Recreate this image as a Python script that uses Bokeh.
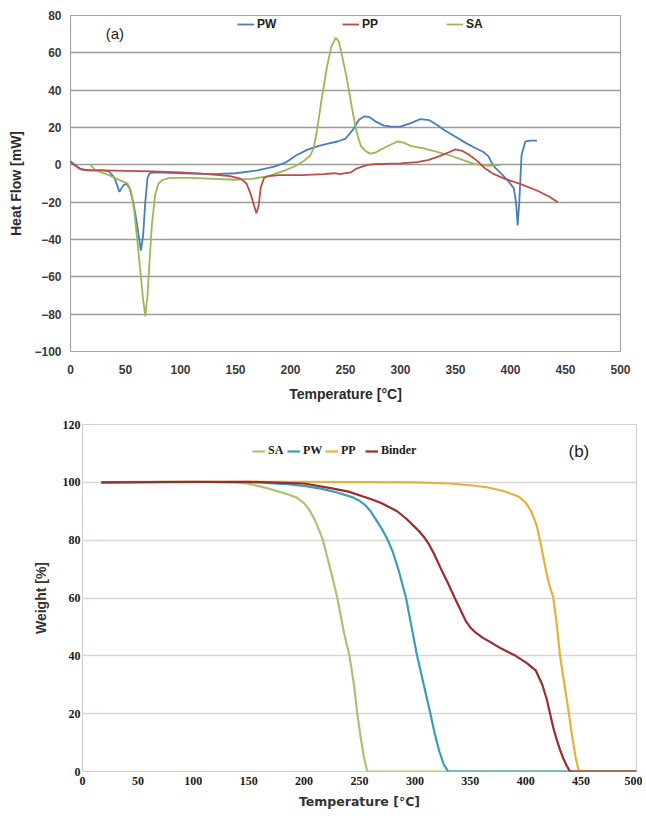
from bokeh.plotting import figure
from bokeh.models import Range1d, FixedTicker, Legend, LegendItem, Label
from bokeh.embed import file_html
from bokeh.resources import INLINE

# ---------------- (a) DSC : Heat Flow [mW] vs Temperature ----------------
pw_dsc_t = [0, 4, 10, 20, 30, 35, 40, 44.5, 48, 51, 54, 57, 60, 62, 64, 66, 68, 70, 72, 78,
            100, 130, 150, 170, 185, 195, 205, 215, 225, 235, 243, 250, 257, 262, 267, 272,
            278, 285, 292, 300, 310, 318, 326, 333, 340, 350, 360, 368, 375, 380, 383, 386,
            392, 397, 403, 405, 406.5, 408, 410, 413.5, 418, 424]
pw_dsc_hf = [2, 0, -2.5, -3, -3, -3.5, -7, -14.5, -11, -10, -13, -20, -30, -38, -46, -38, -20,
             -7, -4.5, -4, -4.5, -5, -4.5, -3, -1, 1, 5, 8, 10, 11.5, 12.5, 14, 19, 24, 26,
             25.5, 23, 21, 20.5, 20.5, 22.5, 24.5, 24, 21.5, 18.5, 15, 11.5, 9, 7, 4.5, 1,
             -1.5, -5, -8, -12.5, -20, -32.5, -20, 5, 12.5, 13, 13]

pp_dsc_t = [0, 3, 8, 15, 30, 50, 75, 100, 125, 145, 155, 160, 164, 167, 169, 171, 173, 176,
            180, 190, 210, 230, 240, 245, 250, 255, 260, 265, 270, 275, 285, 300, 315, 325,
            335, 343, 350, 356, 362, 370, 377, 385, 395, 410, 425, 435, 443]
pp_dsc_hf = [1.5, 0, -2, -3, -3, -3.2, -3.5, -4, -5, -6, -7.5, -10, -16, -22, -26, -22, -12,
             -7, -6, -5.5, -5.5, -5, -4.5, -5, -4.5, -4, -2, -1, 0, 0.3, 0.5, 0.8, 1.5, 2.5,
             4.5, 6.5, 8.3, 7.5, 5.5, 2, -2, -5, -7.5, -10.5, -14, -17, -20]

sa_dsc_t = [18, 22, 28, 35, 42, 48, 52, 55, 58, 61, 64, 66, 68, 70, 72, 74, 77, 80, 84, 90,
            110, 130, 150, 165, 180, 195, 205, 212, 218, 221, 224, 228, 233, 237, 241, 244,
            247, 251, 256, 260, 264, 268, 272, 277, 283, 290, 297, 302, 310, 320, 330, 345,
            357, 367, 380, 391]
sa_dsc_hf = [0, -2.5, -4, -5.5, -7.5, -9, -10, -14, -25, -42, -60, -72, -81, -70, -50, -32,
             -16, -10, -8, -7, -7, -7.5, -8, -7.5, -6, -3, -0.5, 2, 5, 9, 18, 34, 52, 63, 68,
             66, 58, 47, 30, 18, 10, 7.5, 6, 6.5, 8.5, 10.5, 12.5, 12, 10, 9, 7.5, 5, 2.5,
             0.5, -0.5, 0]

# ---------------- (b) TGA : Weight [%] vs Temperature ----------------
sa_tga_t = [17, 50, 100, 140, 150, 160, 170, 178, 185, 193, 200, 205, 209, 213, 217, 220,
            225, 230, 236, 241, 245, 248, 251, 254, 257, 300, 400, 500]
sa_tga_w = [100, 100.2, 100.2, 100, 99.5, 98.6, 97.6, 96.7, 95.9, 94.8, 92.8, 90.3, 87.5, 84,
            80, 75.5, 68, 60, 48, 40, 30, 20, 12, 5, 0, 0, 0, 0]

pw_tga_t = [17, 100, 160, 180, 200, 215, 230, 244, 250, 255, 260, 265, 270, 275, 280, 285,
            292, 297, 302, 308, 314, 318, 322, 326, 330, 400, 500]
pw_tga_w = [100, 100.2, 100, 99.5, 98.8, 97.8, 96.5, 94.8, 93.6, 92.2, 90, 87, 84, 80.5, 76,
            70, 60, 50, 40, 30, 20, 13, 7, 2.5, 0, 0, 0]

pp_tga_t = [17, 100, 200, 300, 330, 350, 365, 380, 394, 400, 405, 410, 414, 418, 421, 425,
            428, 431, 435, 439, 442, 445, 448, 500]
pp_tga_w = [100, 100.2, 100.2, 100, 99.6, 99, 98.3, 97, 95, 93, 90, 85, 78, 70, 65, 60, 51,
            40, 30, 20, 12, 5, 0, 0]

binder_tga_t = [17, 150, 200, 224, 240, 254, 262, 270, 284, 292, 296, 300, 304, 308, 312,
                317, 323, 330, 336, 341, 346, 350, 355, 361, 367, 378, 391, 401, 409, 415,
                419, 422, 425, 428, 431, 434, 437, 440, 500]
binder_tga_w = [100, 100.2, 99.6, 98, 96.8, 95, 94, 92.8, 90, 87.5, 86, 84.5, 83, 81.2, 79,
                75.5, 70.5, 65, 60, 56, 52, 49.8, 48, 46.3, 45, 42.5, 40, 37.5, 35, 30, 25,
                20, 15, 11, 7.5, 4.5, 2, 0, 0]

temp_ticks = [0, 50, 100, 150, 200, 250, 300, 350, 400, 450, 500]
dsc_ticks = [-100, -80, -60, -40, -20, 0, 20, 40, 60, 80]
tga_ticks = [0, 20, 40, 60, 80, 100, 120]


def clean_axes(p):
    for ax in (p.xaxis, p.yaxis):
        ax.axis_line_color = None
        ax.major_tick_line_color = None
        ax.minor_tick_line_color = None
        ax.major_tick_out = 0
        ax.major_tick_in = 0
    p.xgrid.visible = False


def add_legend(p, entries, y, font, size, color, glyph_w):
    for label, r, x in entries:
        lg = Legend(items=[LegendItem(label=label, renderers=[r])], location=(x, y),
                    orientation="horizontal", border_line_color=None,
                    background_fill_alpha=0, padding=0, margin=0, glyph_width=glyph_w,
                    glyph_height=12, label_standoff=3, label_height=12,
                    label_text_font=font, label_text_font_style="bold",
                    label_text_font_size=size, label_text_color=color)
        p.add_layout(lg)


# ---------------- figure (a) ----------------
p1 = figure(width=640, height=404, x_range=Range1d(0, 500), y_range=Range1d(-100, 80),
            output_backend="svg", toolbar_location=None,
            min_border_left=70, min_border_right=20, min_border_top=15, min_border_bottom=49)
clean_axes(p1)
p1.outline_line_color = "#a6a6a6"
p1.outline_line_width = 1.2
p1.ygrid.ticker = FixedTicker(ticks=dsc_ticks)
p1.ygrid.grid_line_color = "#9c9c9c"
p1.ygrid.grid_line_width = 1.6
p1.xaxis.ticker = FixedTicker(ticks=temp_ticks)
p1.yaxis.ticker = FixedTicker(ticks=dsc_ticks)
for ax in (p1.xaxis, p1.yaxis):
    ax.major_label_text_font = "Liberation Sans"
    ax.major_label_text_font_style = "bold"
    ax.major_label_text_font_size = "12px"
    ax.major_label_text_color = "#3a3a3a"
    ax.axis_label_text_font = "Liberation Sans"
    ax.axis_label_text_font_style = "bold"
    ax.axis_label_text_font_size = "14px"
    ax.axis_label_text_color = "#2a2a2a"
p1.xaxis.axis_label = "Temperature [°C]"
p1.yaxis.axis_label = "Heat Flow [mW]"
p1.xaxis.major_label_standoff = 13
p1.xaxis.axis_label_standoff = 9
p1.yaxis.major_label_standoff = 9
p1.yaxis.axis_label_standoff = 7

r_pw1 = p1.line(pw_dsc_t, pw_dsc_hf, line_color="#4a7ebb", line_width=1.8)
r_sa1 = p1.line(sa_dsc_t, sa_dsc_hf, line_color="#98b954", line_width=1.8)
r_pp1 = p1.line(pp_dsc_t, pp_dsc_hf, line_color="#be4b48", line_width=1.8)

add_legend(p1, [("PW", r_pw1, 167), ("PP", r_pp1, 272), ("SA", r_sa1, 376)],
           320, "Liberation Sans", "12px", "#222222", 17)
p1.add_layout(Label(x=32, y=70.5, text="(a)", text_font="Liberation Sans",
                    text_font_size="15px", text_baseline="middle", text_align="left",
                    text_color="#222222"))

# ---------------- figure (b) ----------------
p2 = figure(width=642, height=408, x_range=Range1d(0, 500), y_range=Range1d(0, 120),
            output_backend="svg", toolbar_location=None,
            min_border_left=82, min_border_right=6, min_border_top=20, min_border_bottom=41)
clean_axes(p2)
p2.outline_line_color = "#d0d0d0"
p2.outline_line_width = 1.2
p2.ygrid.ticker = FixedTicker(ticks=tga_ticks)
p2.ygrid.grid_line_color = "#d6d6d6"
p2.ygrid.grid_line_width = 1.3
p2.xaxis.ticker = FixedTicker(ticks=temp_ticks)
p2.yaxis.ticker = FixedTicker(ticks=tga_ticks)
for ax in (p2.xaxis, p2.yaxis):
    ax.major_label_text_font = "Liberation Serif"
    ax.major_label_text_font_style = "bold"
    ax.major_label_text_font_size = "12px"
    ax.major_label_text_color = "#1a1a1a"
p2.yaxis.axis_label = "Weight [%]"
p2.yaxis.axis_label_text_font = "Liberation Sans"
p2.yaxis.axis_label_text_font_style = "bold"
p2.yaxis.axis_label_text_font_size = "14px"
p2.yaxis.axis_label_text_color = "#333333"
p2.yaxis.major_label_standoff = 2
p2.yaxis.axis_label_standoff = 11
p2.xaxis.axis_label = "Temperature [°C]"
p2.xaxis.axis_label_text_font = "DejaVu Sans"
p2.xaxis.axis_label_text_font_style = "bold"
p2.xaxis.axis_label_text_font_size = "12.5px"
p2.xaxis.axis_label_text_color = "#333333"
p2.xaxis.major_label_standoff = 5
p2.xaxis.axis_label_standoff = 6

r_sa2 = p2.line(sa_tga_t, sa_tga_w, line_color="#a9c472", line_width=2.2)
r_pw2 = p2.line(pw_tga_t, pw_tga_w, line_color="#3a9dba", line_width=2.2)
r_pp2 = p2.line(pp_tga_t, pp_tga_w, line_color="#e2b23a", line_width=2.2)
r_bd2 = p2.line(binder_tga_t, binder_tga_w, line_color="#9b2b2e", line_width=2.2)

add_legend(p2, [("SA", r_sa2, 170), ("PW", r_pw2, 205), ("PP", r_pp2, 243),
                ("Binder", r_bd2, 283)], 313, "Liberation Serif", "12px", "#1a1a1a", 13)
p2.add_layout(Label(x=448, y=110.8, text="(b)", text_font="Liberation Sans",
                    text_font_size="17px", text_baseline="middle", text_align="center",
                    text_color="#222222"))

open("out.html", "w").write(file_html([p1, p2], INLINE))
